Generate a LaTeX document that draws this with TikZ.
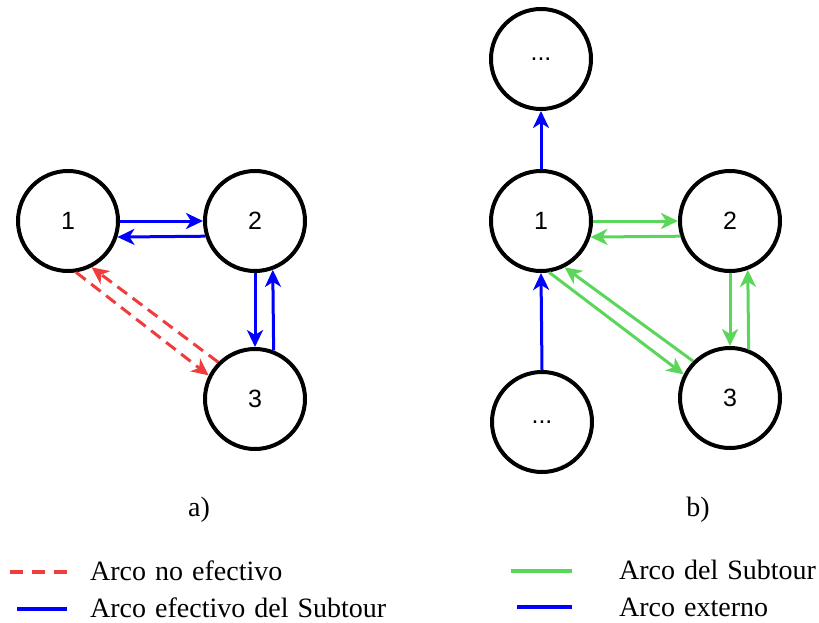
\documentclass[tikz,border=0pt]{standalone}
\usepackage{fontspec}
\setmainfont{Liberation Serif}
\newfontfamily\nodefont{Liberation Sans}
\newfontfamily\legfont{Liberation Serif}
\newcommand\legsize{\legfont\fontsize{28}{30}\selectfont\spaceskip=9pt plus 3pt\relax}
\usetikzlibrary{arrows.meta}
\definecolor{arcblue}{RGB}{0,0,255}
\definecolor{arcred}{RGB}{240,60,60}
\definecolor{arcgreen}{RGB}{90,215,90}
\tikzset{
  vertex/.style={circle, draw=black, line width=4pt, minimum size=100pt, inner sep=0pt,
                 font=\nodefont\fontsize{25}{30}\selectfont},
  arc/.style={line width=3pt, -{Stealth[length=17pt, width=16pt, inset=5pt]}},
  effective/.style={arc, draw=arcblue},
  external/.style={arc, draw=arcblue},
  subtour/.style={arc, draw=arcgreen},
  noneff/.style={arc, draw=arcred, dash pattern=on 12pt off 7pt},
  caption/.style={font=\legsize, inner sep=0pt, anchor=base},
  legtext/.style={font=\legsize, inner sep=0pt, anchor=base west},
  legline/.style={line width=4pt}
}
\begin{document}
\begin{tikzpicture}[x=1pt, y=-1pt]
\useasboundingbox (0,0) rectangle (819,623);

% ---- a) two-node subtour with a non-effective arc ----
\node[vertex] (a1) at (68,221) {1};
\node[vertex] (a2) at (255,221) {2};
\node[vertex] (a3) at (255,399) {3};

\draw[effective] (a1.east) -- (a2.west);
\draw[effective] (a2.197.9) -- (a1.342.1);
\draw[effective] (a2.south) -- (a3.north);
\draw[effective] (a3.69.75) -- (a2.290.25);
\draw[noneff] (a1.279) -- (a3.153);
\draw[noneff] (a3.135) -- (a1.297);

\node[caption] (capa) at (199,516) {a)};

% ---- b) three-node subtour with external arcs ----
\node[vertex] (btop) at (541,59) {...};
\node[vertex] (b1) at (541,221) {1};
\node[vertex] (b2) at (730,221) {2};
\node[vertex] (b3) at (730,398) {3};
\node[vertex] (bbot) at (542,422) {...};

\draw[subtour] (b1.east) -- (b2.west);
\draw[subtour] (b2.197.9) -- (b1.342.1);
\draw[subtour] (b2.south) -- (b3.north);
\draw[subtour] (b3.69.75) -- (b2.290.25);
\draw[subtour] (b1.279) -- (b3.153);
\draw[subtour] (b3.135) -- (b1.297);
\draw[external] (bbot.north) -- (b1.south);
\draw[external] (b1.north) -- (btop.south);

\node[caption] (capb) at (698,516) {b)};

% ---- legend ----
\coordinate (l1s) at (10,572);  \coordinate (l1e) at (67,572);
\coordinate (l2s) at (17,609);  \coordinate (l2e) at (67,609);
\coordinate (l3s) at (511,571); \coordinate (l3e) at (572,571);
\coordinate (l4s) at (517,607); \coordinate (l4e) at (572,607);
\draw[legline, arcred, dash pattern=on 13pt off 9pt] (l1s) -- (l1e);
\draw[legline, arcblue] (l2s) -- (l2e);
\draw[legline, arcgreen] (l3s) -- (l3e);
\draw[legline, arcblue] (l4s) -- (l4e);
\node[legtext] (t1) at (90,580) {Arco no efectivo};
\node[legtext] (t2) at (90,617) {Arco efectivo del Subtour};
\node[legtext] (t3) at (619,579) {Arco del Subtour};
\node[legtext] (t4) at (619,616) {Arco externo};
\end{tikzpicture}
\end{document}
